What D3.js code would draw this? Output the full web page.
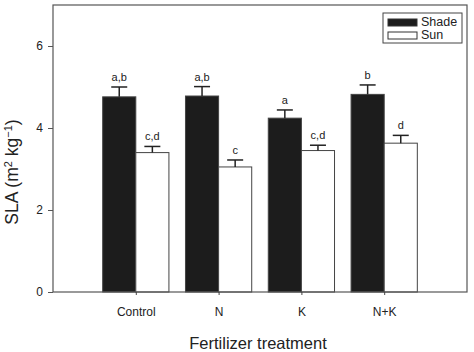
<!DOCTYPE html>
<html>
<head>
<meta charset="utf-8">
<script src="https://cdn.jsdelivr.net/npm/d3@7"></script>
<style>
  body { margin: 0; background: #fff; }
  text { font-family: "Liberation Sans", Arial, sans-serif; fill: #222; }
</style>
</head>
<body>
<svg width="474" height="352"></svg>
<script>
// data
let categories = ["Control", "N", "K", "N+K"];
let shadeMeans = [4.76, 4.78, 4.24, 4.82];
let shadeErr = [0.24, 0.23, 0.20, 0.23];
let shadeLetters = ["a,b", "a,b", "a", "b"];
let sunMeans = [3.40, 3.05, 3.45, 3.63];
let sunErr = [0.15, 0.17, 0.13, 0.19];
let sunLetters = ["c,d", "c", "c,d", "d"];
let yTicks = [0, 2, 4, 6];

let svg = d3.select("svg");
let margin = { top: 5, right: 7, bottom: 60, left: 53 };
let width = 474 - margin.left - margin.right;
let height = 352 - margin.top - margin.bottom;
let g = svg.append("g").attr("transform", `translate(${margin.left},${margin.top})`);

// categories sit at 1..4 on a 0..5 axis
let x = d3.scaleLinear().domain([0, 5]).range([0, width]);
let y = d3.scaleLinear().domain([0, 7]).range([height, 0]);
let barW = x(0.4) - x(0);

let series = [
  { name: "Shade", means: shadeMeans, err: shadeErr, letters: shadeLetters, fill: "#1c1c1c", off: -0.4 },
  { name: "Sun", means: sunMeans, err: sunErr, letters: sunLetters, fill: "#ffffff", off: 0 }
];

series.forEach(s => {
  let rows = categories.map((c, i) => ({ i: i, v: s.means[i], e: s.err[i], l: s.letters[i] }));
  let grp = g.append("g");
  grp.selectAll("rect").data(rows).enter().append("rect")
    .attr("x", d => x(d.i + 1 + s.off))
    .attr("y", d => y(d.v))
    .attr("width", barW)
    .attr("height", d => height - y(d.v))
    .attr("fill", s.fill)
    .attr("stroke", "#444")
    .attr("stroke-width", 1);
  // error bars (upper only)
  grp.selectAll(".eb").data(rows).enter().append("line")
    .attr("x1", d => x(d.i + 1 + s.off + 0.2))
    .attr("x2", d => x(d.i + 1 + s.off + 0.2))
    .attr("y1", d => y(d.v))
    .attr("y2", d => y(d.v + d.e))
    .attr("stroke", "#222").attr("stroke-width", 1.5);
  grp.selectAll(".cap").data(rows).enter().append("line")
    .attr("x1", d => x(d.i + 1 + s.off + 0.2) - 8)
    .attr("x2", d => x(d.i + 1 + s.off + 0.2) + 8)
    .attr("y1", d => y(d.v + d.e))
    .attr("y2", d => y(d.v + d.e))
    .attr("stroke", "#222").attr("stroke-width", 1.5);
  grp.selectAll(".lbl").data(rows).enter().append("text")
    .attr("x", d => x(d.i + 1 + s.off + 0.2))
    .attr("y", d => y(d.v + d.e) - 6)
    .attr("text-anchor", "middle")
    .attr("font-size", 11)
    .text(d => d.l);
});

// frame
g.append("rect").attr("width", width).attr("height", height)
  .attr("fill", "none").attr("stroke", "#555").attr("stroke-width", 1.2);

// y axis
let yAxis = g.append("g").call(d3.axisLeft(y).tickValues(yTicks).tickFormat(d3.format("d")).tickSize(5).tickPadding(5));
yAxis.select(".domain").remove();
yAxis.selectAll("line").attr("stroke", "#555");
yAxis.selectAll("text").attr("font-size", 12).attr("font-family", "Liberation Sans, Arial, sans-serif").attr("fill", "#222");

// x axis
let xAxis = g.append("g").attr("transform", `translate(0,${height})`)
  .call(d3.axisBottom(x).tickValues([1, 2, 3, 4]).tickFormat(d => categories[d - 1]).tickSize(3).tickPadding(12));
xAxis.select(".domain").remove();
xAxis.selectAll("line").attr("stroke", "#444");
xAxis.selectAll("text").attr("font-size", 12).attr("font-family", "Liberation Sans, Arial, sans-serif").attr("fill", "#222");

// axis titles
svg.append("text")
  .attr("x", margin.left + width / 2 - 2).attr("y", 349)
  .attr("text-anchor", "middle").attr("font-size", 16.5)
  .text("Fertilizer treatment");

let yt = svg.append("text")
  .attr("transform", `translate(18,172) rotate(-90)`)
  .attr("text-anchor", "middle").attr("font-size", 17.5);
yt.append("tspan").text("SLA (m");
yt.append("tspan").attr("dy", -6).attr("font-size", 11).text("2");
yt.append("tspan").attr("dy", 6).text(" kg");
yt.append("tspan").attr("dy", -6).attr("font-size", 11).text("−1");
yt.append("tspan").attr("dy", 6).text(")");

// legend
let leg = svg.append("g").attr("transform", "translate(383,13)");
leg.append("rect").attr("width", 79).attr("height", 30)
  .attr("fill", "#fff").attr("stroke", "#444").attr("stroke-width", 1);
series.forEach((s, i) => {
  leg.append("rect").attr("x", 5).attr("y", 6 + i * 13).attr("width", 29).attr("height", 7)
    .attr("fill", s.fill).attr("stroke", "#333").attr("stroke-width", 1);
  leg.append("text").attr("x", 38).attr("y", 13 + i * 13)
    .attr("font-size", 12.5).text(s.name);
});
</script>
</body>
</html>
